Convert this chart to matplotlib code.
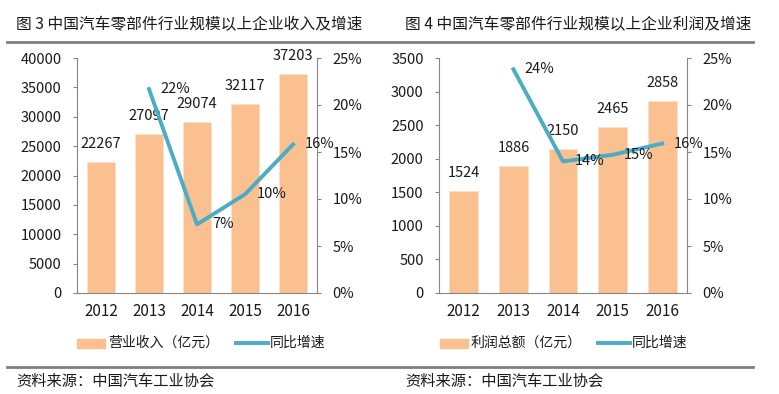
import matplotlib
matplotlib.use("Agg")
import matplotlib.pyplot as plt
from matplotlib.lines import Line2D

plt.rcParams['font.family'] = ['Noto Sans CJK SC', 'DejaVu Sans']

# data
years = ['2012', '2013', '2014', '2015', '2016']
revenue = [22267, 27097, 29074, 32117, 37203]          # 营业收入（亿元）
revenue_growth = [None, 21.7, 7.3, 10.5, 15.8]         # 同比增速 %
revenue_growth_labels = ['', '22%', '7%', '10%', '16%']
profit = [1524, 1886, 2150, 2465, 2858]                # 利润总额（亿元）
profit_growth = [None, 23.8, 14.0, 14.7, 15.9]
profit_growth_labels = ['', '24%', '14%', '15%', '16%']

BAR = '#FAC090'
LINE = '#4BACC6'
GREY = '#868686'
TXT = '#1a1a1a'

W, H = 779, 394
fig = plt.figure(figsize=(W / 100, H / 100), dpi=100)


def fx(px):
    return px / W


def fy(py):
    return 1 - py / H


def panel(left_px, right_px, bars, ymax, ystep, growth, glabels, title, title_x, legend_name, legend_x, line_x):
    ax = fig.add_axes([fx(left_px), fy(293), fx(right_px - left_px), fy(58) - fy(293)])
    x = list(range(len(years)))
    ax.bar(x, bars, width=0.58, color=BAR, edgecolor='#FCE0C8', linewidth=0.6, zorder=2)
    for i, v in enumerate(bars):
        ax.annotate(str(v), (i, v), xytext=(0, 13), textcoords='offset points',
                    ha='center', va='center', fontsize=10.5, color=TXT)
    ax.set_xlim(-0.5, len(years) - 0.5)
    ax.set_ylim(0, ymax)
    ax.set_yticks(range(0, ymax + 1, ystep))
    ax.set_xticks(x)
    ax.set_xticklabels(years)
    ax.tick_params(axis='x', length=0, labelsize=11, labelcolor=TXT, pad=7)
    ax.tick_params(axis='y', direction='out', length=3, color=GREY, labelsize=10.5, labelcolor=TXT, pad=8)
    for s in ['top', 'right']:
        ax.spines[s].set_visible(False)
    for s in ['left', 'bottom']:
        ax.spines[s].set_color(GREY)

    ax2 = ax.twinx()
    xs = [i for i, g in enumerate(growth) if g is not None]
    gs = [g for g in growth if g is not None]
    ax2.plot(xs, gs, color=LINE, linewidth=2.8, zorder=3)
    for i, g in zip(xs, gs):
        ax2.annotate(glabels[i], (i, g), xytext=(19, 0), textcoords='offset points',
                     ha='center', va='center', fontsize=10.5, color=TXT)
    ax2.set_ylim(0, 25)
    ax2.set_yticks(range(0, 26, 5))
    ax2.set_yticklabels([f'{t}%' for t in range(0, 26, 5)])
    ax2.tick_params(axis='y', direction='out', length=3, color=GREY, labelsize=10.5, labelcolor=TXT, pad=8)
    for s in ['top', 'left', 'bottom']:
        ax2.spines[s].set_visible(False)
    ax2.spines['right'].set_color(GREY)

    fig.text(fx(title_x), fy(25), title, fontsize=11.3, color=TXT, ha='left', va='center')
    fig.text(fx(title_x), fy(381), '资料来源：中国汽车工业协会', fontsize=11, color=TXT, ha='left', va='center')

    # legend
    fig.patches.append(plt.Rectangle((fx(legend_x), fy(348)), fx(28), fy(339) - fy(348),
                                     transform=fig.transFigure, color=BAR))
    fig.text(fx(legend_x + 31), fy(343), legend_name, fontsize=10, color=TXT, ha='left', va='center')
    fig.lines.append(Line2D([fx(line_x), fx(line_x + 32)], [fy(343), fy(343)],
                            transform=fig.transFigure, color=LINE, linewidth=2.8))
    fig.text(fx(line_x + 34), fy(343), '同比增速', fontsize=10, color=TXT, ha='left', va='center')


panel(77, 317, revenue, 40000, 5000, revenue_growth, revenue_growth_labels,
      '图 3 中国汽车零部件行业规模以上企业收入及增速', 16, '营业收入（亿元）', 77, 236)
panel(439, 687, profit, 3500, 500, profit_growth, profit_growth_labels,
      '图 4 中国汽车零部件行业规模以上企业利润及增速', 405, '利润总额（亿元）', 440, 598)

# grey rules
fig.lines.append(Line2D([fx(7), fx(753)], [fy(42), fy(42)], transform=fig.transFigure, color='#7f7f7f', linewidth=2))
fig.lines.append(Line2D([fx(7), fx(753)], [fy(367), fy(367)], transform=fig.transFigure, color='#7f7f7f', linewidth=2))

fig.savefig('out.png', dpi=100, facecolor='white')
